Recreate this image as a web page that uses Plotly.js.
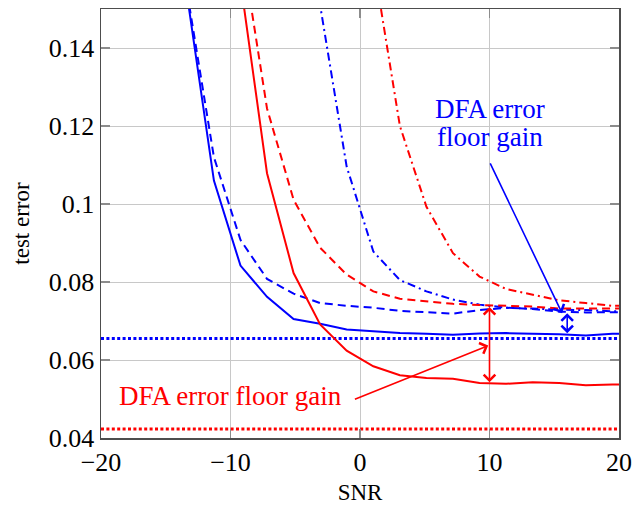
<!DOCTYPE html>
<html>
<head>
<meta charset="utf-8">
<script src="https://cdn.plot.ly/plotly-3.0.1.min.js"></script>
<style>html,body{margin:0;padding:0;background:#fff;}#chart{width:635px;height:505px;}</style>
</head>
<body>
<div id="chart"></div>
<script>
// SNR grid (dB)
const snr = [-19.49, -17.44, -15.38, -13.33, -11.28, -9.23, -7.18, -5.13, -3.08, -1.03,
             1.03, 3.08, 5.13, 7.18, 9.23, 11.28, 13.33, 15.38, 17.44, 19.49, 21.54];

// blue family
const blueSolid   = [0.40, 0.30, 0.21, 0.153, 0.106, 0.0842, 0.0762, 0.0705, 0.0693, 0.0678,
                     0.0673, 0.0669, 0.0667, 0.0665, 0.0668, 0.0669, 0.0667, 0.0666, 0.0663, 0.0667, 0.0667];
const blueDashed  = [0.40, 0.30, 0.22, 0.1539, 0.112, 0.0908, 0.0808, 0.0770, 0.0746, 0.0739,
                     0.0734, 0.0726, 0.0722, 0.0719, 0.0728, 0.0734, 0.0731, 0.0724, 0.0722, 0.0723, 0.0723];
const blueDashDot = [0.60, 0.50, 0.40, 0.32, 0.26, 0.22, 0.19, 0.172, 0.151, 0.1096,
                     0.0878, 0.0805, 0.0776, 0.0755, 0.0742, 0.0734, 0.0732, 0.0729, 0.0728, 0.0725, 0.0725];
const blueFloor = 0.0655;

// red family
const redSolid    = [0.50, 0.40, 0.30, 0.24, 0.19, 0.157, 0.1079, 0.0823, 0.0691, 0.0624,
                     0.0584, 0.0561, 0.0554, 0.0552, 0.0541, 0.0539, 0.0543, 0.0541, 0.0535, 0.0537, 0.0537];
const redDashed   = [0.50, 0.40, 0.30, 0.25, 0.20, 0.168, 0.1245, 0.1011, 0.0888, 0.0819,
                     0.0776, 0.0757, 0.0751, 0.0744, 0.0741, 0.0739, 0.0737, 0.0732, 0.0732, 0.0732, 0.0732];
const redDashDot  = [0.70, 0.60, 0.50, 0.42, 0.35, 0.29, 0.24, 0.20, 0.18, 0.17,
                     0.1621, 0.1200, 0.0993, 0.0874, 0.0814, 0.0782, 0.0767, 0.0753, 0.0746, 0.0739, 0.0739];
const redFloor = 0.0423;

const xTicks = [-20, -10, 0, 10, 20];
const yTicks = [0.04, 0.06, 0.08, 0.1, 0.12, 0.14];

const BLUE = '#0000ff', RED = '#ff0000';
const FONT = '"Liberation Serif", "Times New Roman", serif';

function line(y, color, dash) {
  return {x: snr, y: y, type: 'scatter', mode: 'lines', showlegend: false,
          hoverinfo: 'skip', line: {color: color, width: 2, dash: dash || 'solid'}};
}
function hline(val, color) {
  return {x: [xTicks[0], xTicks[xTicks.length - 1]], y: [val, val], type: 'scatter', mode: 'lines',
          showlegend: false, hoverinfo: 'skip',
          line: {color: color, width: 3, dash: '3px,2.4px'}};
}

const data = [
  hline(blueFloor, BLUE),
  hline(redFloor, RED),
  line(blueSolid, BLUE),
  line(blueDashed, BLUE, '8px,5px'),
  line(blueDashDot, BLUE, '8px,4px,2px,4px'),
  line(redSolid, RED),
  line(redDashed, RED, '8px,5px'),
  line(redDashDot, RED, '8px,4px,2px,4px')
];

function arrow(x, y, ax, ay, color, twoSided) {
  return {x: x, y: y, ax: ax, ay: ay, xref: 'x', yref: 'y', axref: 'x', ayref: 'y',
          text: '', showarrow: true, arrowhead: 4, arrowsize: 1.4, arrowwidth: 1.6,
          arrowcolor: color, standoff: 0, startstandoff: 0,
          arrowside: twoSided ? 'end+start' : 'end', startarrowhead: 4, startarrowsize: 1.4};
}

const annotations = [
  arrow(10, 0.0736, 10, 0.0539, RED, true),
  arrow(16, 0.0720, 16, 0.0665, BLUE, true),
  arrow(9.9, 0.0637, -0.51, 0.0498, RED, false),
  arrow(15.6, 0.0720, 10.0, 0.1108, BLUE, false),
  {x: -10.0, y: 0.0507, xref: 'x', yref: 'y', text: 'DFA error floor gain', showarrow: false,
   xanchor: 'center', yanchor: 'middle', font: {family: FONT, size: 27, color: RED}},
  {x: 10.0, y: 0.1244, xref: 'x', yref: 'y', text: 'DFA error', showarrow: false,
   xanchor: 'center', yanchor: 'middle', font: {family: FONT, size: 27, color: BLUE}},
  {x: 10.0, y: 0.1172, xref: 'x', yref: 'y', text: 'floor gain', showarrow: false,
   xanchor: 'center', yanchor: 'middle', font: {family: FONT, size: 27, color: BLUE}}
];

const axisCommon = {
  showgrid: true, gridcolor: '#c8c8c8', gridwidth: 1,
  showline: true, linecolor: '#4d4d4d', linewidth: 1.5, mirror: 'ticks',
  ticks: 'inside', ticklen: 9, tickcolor: '#8c8c8c', tickwidth: 1.5,
  zeroline: false, tickfont: {family: FONT, size: 26, color: '#000'}
};

const layout = {
  width: 635, height: 505,
  margin: {l: 101, r: 16, t: 9, b: 67},
  paper_bgcolor: '#fff', plot_bgcolor: '#fff',
  showlegend: false,
  xaxis: Object.assign({}, axisCommon, {
    range: [-20, 20], tickvals: xTicks, ticktext: xTicks.map(v => v < 0 ? '\u2212' + Math.abs(v) : String(v)),
    title: {text: 'SNR', font: {family: FONT, size: 23, color: '#000'}, standoff: 11}
  }),
  yaxis: Object.assign({}, axisCommon, {
    range: [0.04, 0.15], tickvals: yTicks, ticktext: yTicks.map(v => String(v)),
    title: {text: 'test error', font: {family: FONT, size: 23, color: '#000'}, standoff: 12}
  }),
  annotations: annotations
};

Plotly.newPlot('chart', data, layout, {staticPlot: true, displayModeBar: false});
</script>
</body>
</html>
